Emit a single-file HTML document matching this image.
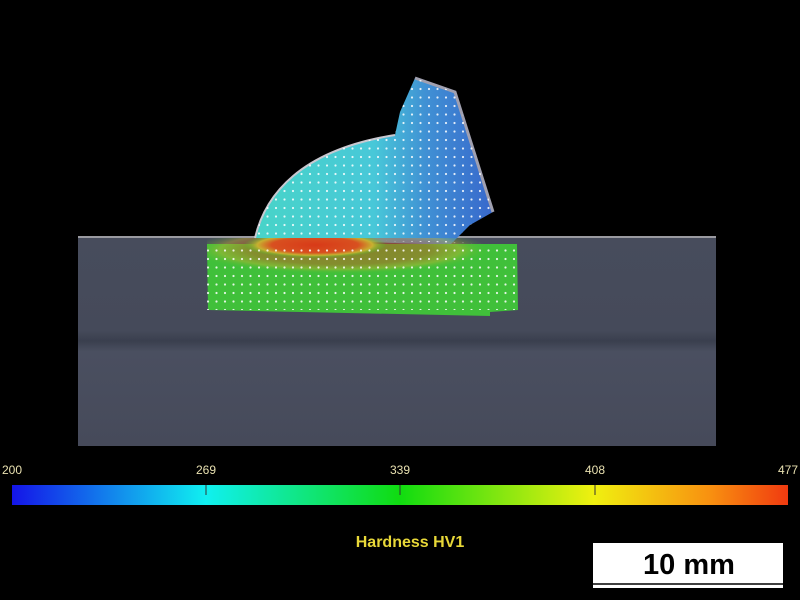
<!DOCTYPE html>
<html><head><style>
html,body{margin:0;padding:0;background:#000;width:800px;height:600px;overflow:hidden}
</style></head><body>
<svg width="800" height="600" xmlns="http://www.w3.org/2000/svg" style="display:block">
<defs>
<linearGradient id="cb" x1="0" x2="1" y1="0" y2="0">
<stop offset="0" stop-color="#1414e8"/>
<stop offset="0.25" stop-color="#10f0f0"/>
<stop offset="0.5" stop-color="#10dc10"/>
<stop offset="0.75" stop-color="#f0f010"/>
<stop offset="0.9" stop-color="#f89010"/>
<stop offset="1" stop-color="#f03a10"/>
</linearGradient>
<linearGradient id="plate" x1="0" x2="0" y1="0" y2="1">
<stop offset="0" stop-color="#474c5c"/>
<stop offset="0.45" stop-color="#454a5a"/>
<stop offset="0.5" stop-color="#3a3f4e"/>
<stop offset="0.55" stop-color="#4a4f60"/>
<stop offset="1" stop-color="#464a5a"/>
</linearGradient>
<linearGradient id="weld" x1="0" x2="1" y1="0" y2="0">
<stop offset="0" stop-color="#48d4c8"/>
<stop offset="0.5" stop-color="#48c8d8"/>
<stop offset="0.72" stop-color="#4090d4"/>
<stop offset="1" stop-color="#3868cc"/>
</linearGradient>
<radialGradient id="hot" cx="0.5" cy="0.5" r="0.5">
<stop offset="0" stop-color="#d83a18"/>
<stop offset="0.6" stop-color="#d85020"/>
<stop offset="0.8" stop-color="#c8b030"/>
<stop offset="1" stop-color="#40c030" stop-opacity="0"/>
</radialGradient>
<clipPath id="gc"><path d="M207,238 L517,238 L518,310 L490,312 L490,316 L208,310 Z"/></clipPath>
<pattern id="dots" width="8.5" height="8.5" patternUnits="userSpaceOnUse">
<circle cx="4" cy="4" r="1.1" fill="#fff" opacity="0.85"/>
</pattern>
</defs>
<rect x="78" y="236" width="638" height="210" fill="url(#plate)"/>
<rect x="78" y="236" width="638" height="2" fill="#9a9aa0"/>
<path d="M255,238 C265,195 300,150 395,135 L400,112 L415,78 L455,92 L493,212 L470,225 L450,245 Z" fill="url(#weld)"/>
<path d="M255,238 C265,195 300,150 395,135" fill="none" stroke="#c8c8d0" stroke-width="2"/>
<path d="M415,78 L455,92 L493,212" fill="none" stroke="#a0a0b0" stroke-width="3"/>
<path d="M207,244 L517,244 L518,310 L490,312 L490,316 L208,310 Z" fill="#40c03a"/>
<g clip-path="url(#gc)">
<ellipse cx="340" cy="250" rx="150" ry="24" fill="url(#hot)" opacity="0.45"/>
<ellipse cx="315" cy="245" rx="72" ry="13" fill="url(#hot)"/>
</g>
<path d="M255,238 C265,195 300,150 395,135 L400,112 L415,78 L455,92 L493,212 L470,225 L450,245 L207,245 L207,310 L518,310 L517,244 Z" fill="url(#dots)"/>
<rect x="12" y="485" width="776" height="20" fill="url(#cb)"/>
<g stroke="#333" stroke-width="1">
<line x1="206" y1="485" x2="206" y2="495"/>
<line x1="400" y1="485" x2="400" y2="495"/>
<line x1="595" y1="485" x2="595" y2="495"/>
</g>
<g font-family="Liberation Sans Narrow, Liberation Sans, sans-serif" font-size="12" fill="#e8e0b0" text-anchor="middle">
<text x="12" y="474">200</text>
<text x="206" y="474">269</text>
<text x="400" y="474">339</text>
<text x="595" y="474">408</text>
<text x="788" y="474">477</text>
</g>
<text x="410" y="547" font-family="Liberation Sans, sans-serif" font-size="16" font-weight="bold" fill="#e8d838" text-anchor="middle">Hardness HV1</text>
<rect x="593" y="543" width="190" height="45" fill="#fff"/>
<line x1="593" y1="584" x2="783" y2="584" stroke="#000" stroke-width="1.5"/>
<text x="689" y="574" font-family="Liberation Sans, sans-serif" font-size="29" font-weight="bold" fill="#000" text-anchor="middle">10 mm</text>
</svg>
</body></html>
